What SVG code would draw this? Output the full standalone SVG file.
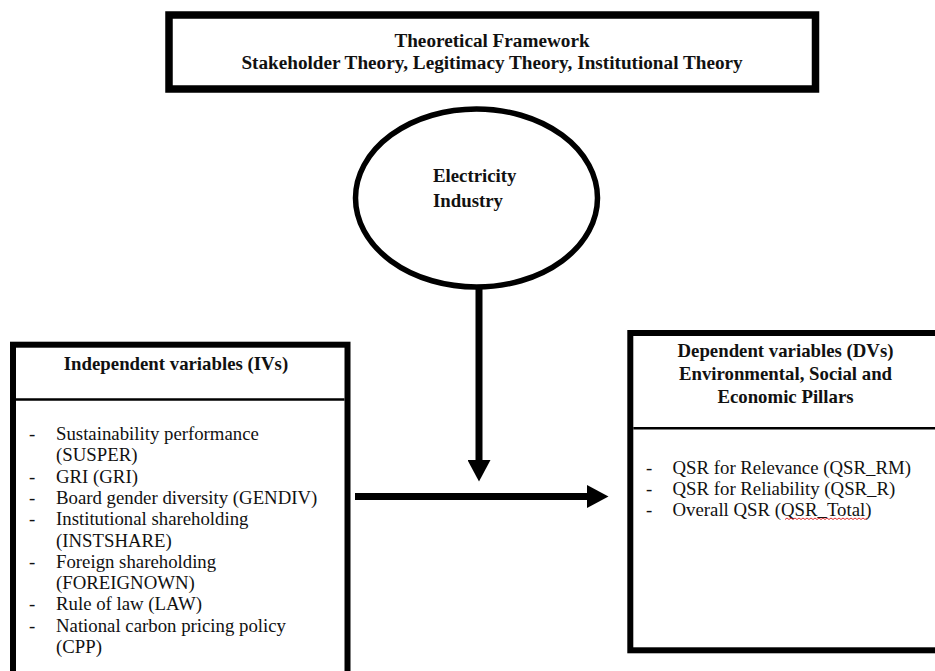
<svg xmlns="http://www.w3.org/2000/svg" width="935" height="671" viewBox="0 0 935 671">
  <style>
    .box { fill: #ffffff; stroke: #000000; }
    .div { stroke: #000000; stroke-width: 2.5; }
    .hd { font-family: "Liberation Serif", "Times New Roman", serif; font-weight: bold; font-size: 18.8px; fill: #111111; }
    .top { font-size: 19.2px; }
    .tx { font-family: "Liberation Serif", "Times New Roman", serif; font-size: 18.8px; fill: #111111; }
    .conn { stroke: #000000; stroke-width: 7; fill: none; }
  </style>
  <defs>
    <marker id="arrow" markerUnits="userSpaceOnUse" markerWidth="22" markerHeight="23" refX="0" refY="11.5" orient="auto" viewBox="0 0 22 23">
      <path d="M0,0 L21.5,11.5 L0,23 Z" fill="#000000"/>
    </marker>
  </defs>
  <rect width="935" height="671" fill="#ffffff"/>

  <g id="theoretical-framework">
    <rect class="box" x="169" y="15" width="646.5" height="74" stroke-width="7.5"/>
    <text class="hd top" x="492" y="47" text-anchor="middle">Theoretical Framework</text>
    <text class="hd top" x="492" y="69" text-anchor="middle">Stakeholder Theory, Legitimacy Theory, Institutional Theory</text>
  </g>

  <g id="electricity-industry">
    <ellipse class="box" cx="476.5" cy="198" rx="121" ry="89" stroke-width="5.5"/>
    <text class="hd" x="433" y="182">Electricity</text>
    <text class="hd" x="433" y="207">Industry</text>
  </g>

  <g id="independent-variables">
    <rect class="box" x="13" y="344.7" width="334.5" height="330" stroke-width="6"/>
    <line class="div" x1="16" y1="399.5" x2="344.5" y2="399.5"/>
    <text class="hd" x="176" y="370" text-anchor="middle">Independent variables (IVs)</text>
    <g class="tx">
      <text x="29" y="440">-</text><text x="56" y="440">Sustainability performance</text>
      <text x="56" y="461.3">(SUSPER)</text>
      <text x="29" y="482.6">-</text><text x="56" y="482.6">GRI (GRI)</text>
      <text x="29" y="503.9">-</text><text x="56" y="503.9">Board gender diversity (GENDIV)</text>
      <text x="29" y="525.2">-</text><text x="56" y="525.2">Institutional shareholding</text>
      <text x="56" y="546.5">(INSTSHARE)</text>
      <text x="29" y="567.8">-</text><text x="56" y="567.8">Foreign shareholding</text>
      <text x="56" y="589.1">(FOREIGNOWN)</text>
      <text x="29" y="610.4">-</text><text x="56" y="610.4">Rule of law (LAW)</text>
      <text x="29" y="631.7">-</text><text x="56" y="631.7">National carbon pricing policy</text>
      <text x="56" y="653">(CPP)</text>
    </g>
  </g>

  <g id="dependent-variables">
    <rect class="box" x="630.3" y="333" width="320" height="317.3" stroke-width="6"/>
    <line class="div" x1="633.3" y1="428.3" x2="935" y2="428.3"/>
    <text class="hd" x="785.5" y="357" text-anchor="middle">Dependent variables (DVs)</text>
    <text class="hd" x="785.5" y="380" text-anchor="middle">Environmental, Social and</text>
    <text class="hd" x="785.5" y="403" text-anchor="middle">Economic Pillars</text>
    <g class="tx">
      <text x="646" y="473.5">-</text><text x="672.5" y="473.5">QSR for Relevance (QSR_RM)</text>
      <text x="646" y="494.8">-</text><text x="672.5" y="494.8">QSR for Reliability (QSR_R)</text>
      <text x="646" y="516">-</text><text x="672.5" y="516">Overall QSR (QSR_Total)</text>
    </g>
    <path d="M785,519.5 l2,-1.5 l2,1.5 l2,-1.5 l2,1.5 l2,-1.5 l2,1.5 l2,-1.5 l2,1.5 l2,-1.5 l2,1.5 l2,-1.5 l2,1.5 l2,-1.5 l2,1.5 l2,-1.5 l2,1.5 l2,-1.5 l2,1.5 l2,-1.5 l2,1.5 l2,-1.5 l2,1.5 l2,-1.5 l2,1.5 l2,-1.5 l2,1.5 l2,-1.5 l2,1.5 l2,-1.5 l2,1.5 l2,-1.5 l2,1.5 l2,-1.5 l2,1.5 l2,-1.5 l2,1.5 l2,-1.5 l2,1.5 l2,-1.5 l2,1.5 l2,-1.5" fill="none" stroke="#e03030" stroke-width="1"/>
  </g>

  <g id="connectors">
    <line class="conn" x1="479" y1="287" x2="479" y2="460" marker-end="url(#arrow)"/>
    <line class="conn" x1="355" y1="496.5" x2="587" y2="496.5" marker-end="url(#arrow)"/>
  </g>
</svg>
